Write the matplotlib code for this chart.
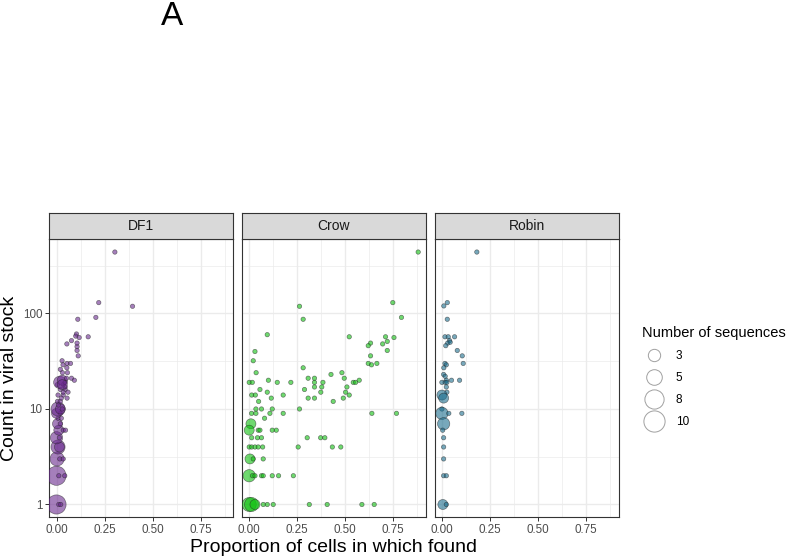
import numpy as np
import matplotlib
matplotlib.use("Agg")
import matplotlib.pyplot as plt
from matplotlib.lines import Line2D
from matplotlib.ticker import FixedLocator, NullFormatter

plt.rcParams['font.family'] = ['Liberation Sans', 'DejaVu Sans']

# ---------------- data ----------------
panels = ["DF1", "Crow", "Robin"]

df1_x = [0.0, 0.012, 0.022, 0.0, 0.012, 0.043, 0.003, 0.017, 0.035, 0.008, 0.015,
         0.0, 0.015, 0.012, 0.035, 0.047, 0.005, 0.02, 0.008, 0.025, 0.0, 0.02,
         0.008, 0.02, 0.03, 0.005, 0.02, 0.01, 0.008, 0.035, 0.055, 0.025,
         0.02, 0.045, 0.06, 0.035, 0.005, 0.035, 0.045, 0.017, 0.03, 0.045, 0.03,
         0.078, 0.093, 0.052, 0.031, 0.057, 0.02, 0.054, 0.034, 0.055, 0.073, 0.029,
         0.113, 0.107, 0.107, 0.054, 0.107, 0.078, 0.118, 0.165, 0.104, 0.1,
         0.111, 0.205, 0.22, 0.396, 0.304]
df1_y = [1, 1, 1, 2, 2, 2, 3, 3, 3, 4, 4,
         5, 5, 6, 6, 6, 7, 7, 8, 8, 9, 9,
         10, 10, 10, 12, 12, 11, 14, 14, 13, 13,
         16, 16, 15, 15, 18, 18, 17, 19, 20, 19, 18,
         21, 20, 21, 24, 24, 26, 27, 29, 30, 30, 32,
         36, 41, 45, 48, 49, 52, 56, 57, 61, 58,
         87, 91, 130, 119, 440]
df1_n = [8, 1, 1, 8, 1, 1, 4, 1, 1, 4, 2,
         3, 1, 2, 1, 1, 2, 1, 1, 1, 2, 1,
         4, 2, 1, 1, 1, 1, 1, 1, 1, 1,
         1, 1, 1, 1, 1, 1, 1, 3, 2, 1, 2,
         1, 1, 1, 1, 1, 1, 1, 1, 1, 1, 1,
         1, 1, 1, 1, 1, 1, 1, 1, 1, 1,
         1, 1, 1, 1, 1]

crow_x = [0.88, 0.748, 0.262, 0.793, 0.281, 0.094, 0.521, 0.71, 0.754, 0.719, 0.695,
          0.632, 0.62, 0.719, 0.03, 0.021, 0.632, 0.62, 0.637, 0.665, 0.281, 0.036,
          0.483, 0.426, 0.307, 0.34, 0.495, 0.0, 0.016, 0.1, 0.146, 0.217, 0.34,
          0.384, 0.542, 0.554, 0.573, 0.34, 0.378, 0.509, 0.056, 0.288, 0.094,
          0.373, 0.502, 0.177, 0.013, 0.032, 0.521, 0.115, 0.307, 0.34, 0.49,
          0.049, 0.4375, 0.035, 0.064, 0.12, 0.262, 0.0125, 0.035, 0.108, 0.177,
          0.639, 0.767, 0.08, 0.009, 0.0, 0.047, 0.056, 0.12, 0.141,
          0.013, 0.043, 0.064, 0.302, 0.372, 0.394,
          0.0, 0.0125, 0.03, 0.047, 0.07, 0.255, 0.433, 0.477,
          0.004, 0.021, 0.073,
          0.0, 0.017, 0.03, 0.064, 0.073, 0.12, 0.153, 0.23,
          0.0, 0.012, 0.03, 0.073, 0.094, 0.125, 0.313, 0.406, 0.587, 0.651]
crow_y = [440, 130, 119, 91, 87, 60, 57, 57, 56, 51, 48,
          49, 46, 41, 40, 32, 36, 30, 29, 30, 27, 24,
          24, 23, 21, 21, 21, 19, 19, 20, 19, 19, 19,
          19, 19, 19, 20, 17, 17, 17, 16, 16, 15,
          15, 15, 14, 14, 14, 14, 13, 13, 13, 13,
          12, 12, 10, 10, 10, 10, 9, 9, 9, 9,
          9, 9, 8, 7, 6, 6, 6, 6, 6,
          5, 5, 5, 5, 5, 5,
          4, 4, 4, 4, 4, 4, 4, 4,
          3, 3, 3,
          2, 2, 2, 2, 2, 2, 2, 2,
          1, 1, 1, 1, 1, 1, 1, 1, 1, 1]
crow_n = [1, 1, 1, 1, 1, 1, 1, 1, 1, 1, 1,
          1, 1, 1, 1, 1, 1, 1, 1, 1, 1, 1,
          1, 1, 1, 1, 1, 1, 1, 1, 1, 1, 1,
          1, 1, 1, 1, 1, 1, 1, 1, 1, 1,
          1, 1, 1, 1, 1, 1, 1, 1, 1, 1,
          1, 1, 1, 1, 1, 1, 1, 1, 1, 1,
          1, 1, 1, 2, 2, 1, 1, 1, 1,
          1, 1, 1, 1, 1, 1,
          1, 1, 1, 1, 1, 1, 1, 1,
          2, 1, 1,
          3, 1, 1, 1, 1, 1, 1, 1,
          4, 4, 2, 1, 1, 1, 1, 1, 1, 1]

robin_x = [0.182, 0.028, 0.01, 0.028, 0.016, 0.033, 0.066, 0.04, 0.03, 0.043, 0.02,
           0.08, 0.106, 0.111, 0.016, 0.023, 0.01, 0.009, 0.017, 0.023, 0.05, 0.092,
           0.0, 0.017, 0.026, 0.023, 0.026, 0.0, 0.009, 0.0, 0.0, 0.036, 0.104,
           0.009, 0.004, 0.009, 0.009, 0.009, 0.009, 0.023, 0.005, 0.023]
robin_y = [440, 130, 120, 87, 57, 57, 57, 52, 49, 50, 46,
           41, 36, 30, 30, 29, 27, 23, 22, 20, 20, 20,
           19, 19, 19, 17, 15, 14, 13, 10, 9, 9, 9,
           7, 6, 5, 4, 3, 2, 2, 1, 1]
robin_n = [1, 1, 1, 1, 1, 1, 1, 1, 1, 1, 1,
           1, 1, 1, 1, 1, 1, 1, 1, 1, 1, 1,
           1, 1, 1, 1, 1, 2, 2, 1, 3, 1, 1,
           3, 1, 1, 1, 1, 1, 1, 2, 1]

legend_breaks = [3, 5, 8, 10]
x_ticks = [0.0, 0.25, 0.5, 0.75]
x_ticklabels = ["0.00", "0.25", "0.50", "0.75"]
y_ticks = [1, 10, 100]
y_ticklabels = ["1", "10", "100"]

colors = ["#6A2A8E", "#10C010", "#1C6E8E"]
series = [(df1_x, df1_y, df1_n), (crow_x, crow_y, crow_n), (robin_x, robin_y, robin_n)]

# ---------------- layout ----------------
W, H = 788, 558
fig = plt.figure(figsize=(W / 100, H / 100), dpi=100)


def fx(px):
    return px / W


def fy(py):
    return 1 - py / H


def radius_px(n):
    return 2.2 + 2.8 * np.sqrt(np.asarray(n, dtype=float) - 1)


def area_pt2(n):
    d_pt = 2 * radius_px(n) * 0.72
    return d_pt ** 2


panel_lefts = [49.3, 242.0, 434.7]
panel_w = 184.0
panel_top, panel_bot, strip_top = 239.0, 517.0, 213.0
ylim = (10 ** -0.131, 10 ** 2.780)
xlim = (-0.0375, 0.9208)
grid_col = "#EBEBEB"
border_col = "#333333"

for i, (name, (xs, ys, ns), col) in enumerate(zip(panels, series, colors)):
    left = panel_lefts[i]
    ax = fig.add_axes([fx(left), fy(panel_bot), panel_w / W, (panel_bot - panel_top) / H])
    ax.set_yscale("log")
    ax.set_xlim(*xlim)
    ax.set_ylim(*ylim)
    ax.set_xticks(x_ticks)
    ax.set_xticklabels(x_ticklabels)
    ax.xaxis.set_minor_locator(FixedLocator([0.125, 0.375, 0.625, 0.875]))
    ax.yaxis.set_major_locator(FixedLocator(y_ticks))
    ax.yaxis.set_minor_locator(FixedLocator([10 ** 0.5, 10 ** 1.5, 10 ** 2.5]))
    ax.yaxis.set_minor_formatter(NullFormatter())
    if i == 0:
        ax.set_yticklabels(y_ticklabels)
    else:
        ax.set_yticklabels([])
    ax.grid(True, which="major", color=grid_col, linewidth=1.0, zorder=0)
    ax.grid(True, which="minor", color=grid_col, linewidth=0.5, zorder=0)
    ax.set_axisbelow(True)
    ax.tick_params(which="major", length=2.8, width=0.7, color=border_col,
                   labelsize=8.4, labelcolor="#4D4D4D", pad=2)
    ax.tick_params(which="minor", length=0)
    if i != 0:
        ax.tick_params(axis="y", which="major", length=0)
    for sp in ax.spines.values():
        sp.set_color(border_col)
        sp.set_linewidth(0.8)
    ax.scatter(xs, ys, s=area_pt2(ns), c=col, alpha=0.6,
               edgecolors="#222222", linewidths=0.45, zorder=3)

    sax = fig.add_axes([fx(left), fy(panel_top), panel_w / W, (panel_top - strip_top) / H])
    sax.set_facecolor("#D9D9D9")
    sax.set_xticks([])
    sax.set_yticks([])
    for sp in sax.spines.values():
        sp.set_color(border_col)
        sp.set_linewidth(0.8)
    sax.text(0.5, 0.5, name, ha="center", va="center", fontsize=10,
             color="#1A1A1A", transform=sax.transAxes)

fig.text(fx(334), fy(547), "Proportion of cells in which found",
         ha="center", va="center", fontsize=14)
fig.text(fx(10), fy(378), "Count in viral stock", ha="center", va="center",
         rotation=90, fontsize=14)
fig.text(fx(172), fy(1), "A", ha="center", va="top", fontsize=24)

# legend
handles = [Line2D([], [], marker="o", linestyle="", markersize=float(2 * radius_px(b) * 0.72),
                  markerfacecolor="none", markeredgecolor="#A0A0A0", markeredgewidth=0.7)
           for b in legend_breaks]
leg = fig.legend(handles, [str(b) for b in legend_breaks], title="Number of sequences",
                 loc="upper left", bbox_to_anchor=(fx(641.5), fy(326)),
                 frameon=False, fontsize=8.5, title_fontsize=10.5,
                 handlelength=2.1, handletextpad=0.8, labelspacing=0.85,
                 borderpad=0, borderaxespad=0, alignment="left")

fig.savefig("out.png", dpi=100)
